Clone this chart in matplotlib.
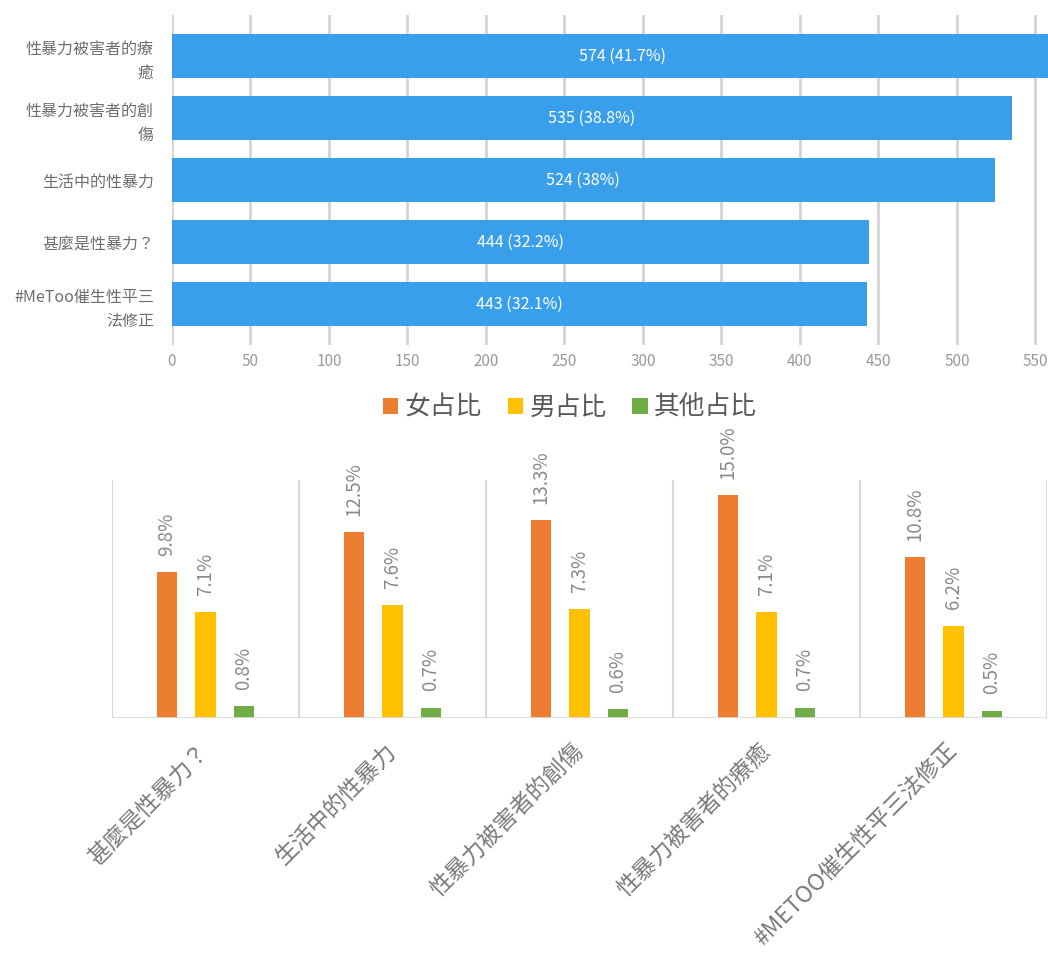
import matplotlib.pyplot as plt
import numpy as np

plt.rcParams['font.family'] = ['Noto Sans CJK TC', 'DejaVu Sans']

# top chart: counts per topic
topics = ["性暴力被害者的療\n癒", "性暴力被害者的創\n傷", "生活中的性暴力",
          "甚麼是性暴力？", "#MeToo催生性平三\n法修正"]
counts = [574, 535, 524, 444, 443]
shares = [41.7, 38.8, 38, 32.2, 32.1]
count_ticks = [0, 50, 100, 150, 200, 250, 300, 350, 400, 450, 500, 550]

# bottom chart: share by gender
groups = ["甚麼是性暴力？", "生活中的性暴力", "性暴力被害者的創傷",
          "性暴力被害者的療癒", "#METOO催生性平三法修正"]
female = [9.8, 12.5, 13.3, 15.0, 10.8]
male = [7.1, 7.6, 7.3, 7.1, 6.2]
other = [0.8, 0.7, 0.6, 0.7, 0.5]
series_names = ["女占比", "男占比", "其他占比"]
series_colors = ["#ED7D31", "#FFC000", "#70AD47"]

fig = plt.figure(figsize=(10.48, 9.65), dpi=100)

# ---- top horizontal bars
ax1 = fig.add_axes([172 / 1048, 1 - 345 / 965, 876 / 1048, 330 / 965])
xmax = 558
y = np.arange(len(topics))
ax1.barh(y, counts, height=0.71, color="#3A9FEA", zorder=3)
for yi, c, s in zip(y, counts, shares):
    ax1.text(c / 2, yi, f"{c} ({s:g}%)", color="white",
             ha="center", va="center", fontsize=11.5, zorder=4)
ax1.set_xlim(0, xmax)
ax1.set_ylim(4.66, -0.66)
ax1.set_yticks(y)
ax1.set_yticklabels(topics, fontsize=11.5, color="#6E6E6E", ha="right",
                    multialignment="right", linespacing=1.55)
ax1.set_xticks(count_ticks)
ax1.tick_params(axis="x", labelsize=11, labelcolor="#9A9A9A", length=0, pad=6)
ax1.tick_params(axis="y", length=0, pad=13)
ax1.grid(axis="x", color="#D4D4D4", linewidth=2, zorder=0)
for sp in ax1.spines.values():
    sp.set_visible(False)

# ---- bottom grouped bars
ax2 = fig.add_axes([112 / 1048, 1 - 718 / 965, 935 / 1048, 238 / 965])
x = np.arange(len(groups))
w = 0.107
step = 0.206
for k, (vals, col) in enumerate(zip([female, male, other], series_colors)):
    pos = x + (k - 1) * step
    ax2.bar(pos, vals, width=w, color=col, label=series_names[k], zorder=3)
    for px_, v in zip(pos, vals):
        ax2.text(px_, v + 1.1, f"{v:.1f}%", rotation=90, ha="center",
                 va="bottom", fontsize=13.5, color="#8A8A8A", clip_on=False)
ax2.set_xlim(-0.5, len(groups) - 0.5)
ax2.set_ylim(0, 16)
ax2.set_yticks([])
for b in np.arange(-0.5, len(groups) + 0.5):
    ax2.axvline(b, color="#D9D9D9", linewidth=1.5, zorder=1)
for sp in ax2.spines.values():
    sp.set_visible(False)
ax2.axhline(0, color="#D9D9D9", linewidth=2, zorder=4)
ax2.set_xticks(x)
ax2.set_xticklabels(groups, rotation=45, ha="right", va="center",
                    rotation_mode="anchor", fontsize=16.5, color="#7A7A7A")
ax2.tick_params(axis="x", length=0, pad=21)

fig.legend(loc="center", bbox_to_anchor=(570 / 1048, 1 - 408 / 965), ncol=3,
           frameon=False, fontsize=18.5, handlelength=0.6, handleheight=0.6,
           handletextpad=0.25, columnspacing=1.0, labelcolor="#595959")

fig.savefig("out.png", dpi=100)
